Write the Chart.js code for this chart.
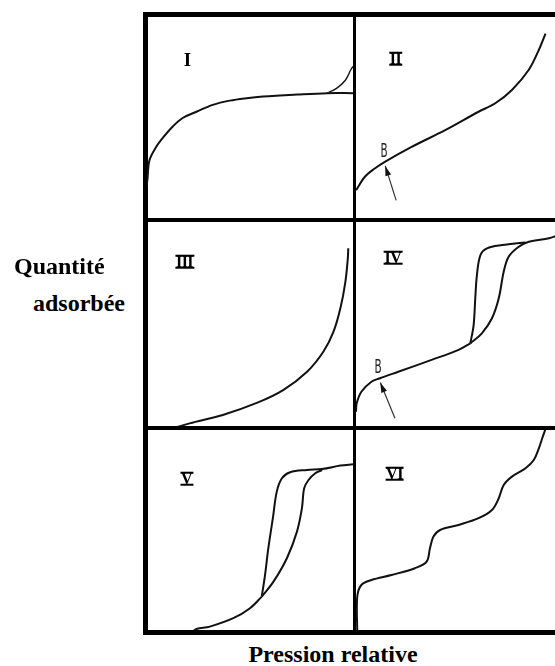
<!DOCTYPE html>
<html>
<head>
<meta charset="utf-8">
<script src="https://cdn.jsdelivr.net/npm/chart.js@4.4.0/dist/chart.umd.min.js"></script>
<style>
	body { margin: 0; background: #fff; width: 555px; height: 666px; overflow: hidden; position: relative; }
	.rule { position: absolute; background: #000; }
	.panel { position: absolute; }
	.num { position: absolute; transform: translate(-50%, -50%); font-family: "Liberation Serif", serif; font-weight: bold; font-size: 16px; line-height: 0.66em; color: #000; white-space: nowrap; }
	.num.bar { border-top: 2px solid #000; border-bottom: 2px solid #000; padding: 0 1px; letter-spacing: -0.5px; }
	.mark { position: absolute; transform: translate(-50%, -50%) scaleX(0.55); font-family: "DejaVu Sans", sans-serif; font-size: 19px; line-height: 1; color: #222; }
	.axis { position: absolute; font-family: "Liberation Serif", "Times New Roman", serif; font-weight: bold; font-size: 24px; line-height: 24px; color: #000; white-space: nowrap; }
</style>
</head>
<body>
<!-- frame -->
<div class="rule" style="left:143px;top:12px;width:4.5px;height:623px"></div>
<div class="rule" style="left:352.5px;top:12px;width:3.5px;height:623px"></div>
<div class="rule" style="left:143px;top:12px;width:412px;height:4.5px"></div>
<div class="rule" style="left:143px;top:217.5px;width:412px;height:4.5px"></div>
<div class="rule" style="left:143px;top:426px;width:412px;height:4px"></div>
<div class="rule" style="left:143px;top:630px;width:412px;height:5px"></div>

<div class="panel" style="left:147px;top:16px"><canvas id="p1" width="206" height="202"></canvas></div>
<div class="panel" style="left:356px;top:16px"><canvas id="p2" width="199" height="202"></canvas></div>
<div class="panel" style="left:147px;top:222px"><canvas id="p3" width="206" height="204"></canvas></div>
<div class="panel" style="left:356px;top:222px"><canvas id="p4" width="199" height="204"></canvas></div>
<div class="panel" style="left:147px;top:430px"><canvas id="p5" width="206" height="200"></canvas></div>
<div class="panel" style="left:356px;top:430px"><canvas id="p6" width="199" height="200"></canvas></div>

<div class="num" style="left:187.5px;top:60px;font-size:19px">I</div>
<div class="num bar" style="left:395.5px;top:58.5px">II</div>
<div class="num bar" style="left:184.5px;top:261.5px">III</div>
<div class="num bar" style="left:393px;top:257.5px">IV</div>
<div class="num bar" style="left:186.5px;top:478.5px">V</div>
<div class="num bar" style="left:394.5px;top:473.5px">VI</div>

<div class="mark" style="left:384px;top:150px">B</div>
<div class="mark" style="left:377.5px;top:365.5px">B</div>

<div class="axis" style="left:14px;top:254px">Quantité</div>
<div class="axis" style="left:33px;top:291px">adsorbée</div>
<div class="axis" style="left:333px;top:642px;transform:translateX(-50%)">Pression relative</div>

<script>
// x = relative pressure across a panel (0..1), y = adsorbed amount (0..1)
const typeI = [[-0.005,0.14],[0.002,0.19],[0.012,0.286],[0.045,0.353],[0.076,0.396],[0.124,0.452],[0.173,0.495],[0.24,0.526],[0.319,0.56],[0.402,0.581],[0.484,0.593],[0.563,0.601],[0.728,0.611],[0.874,0.618],[1.0,0.618]];
const typeIBranch = [[0.874,0.618],[0.92,0.642],[0.963,0.682],[0.99,0.735],[1.0,0.75]];

const typeII = [[0,0.137],[0.042,0.203],[0.091,0.245],[0.14,0.278],[0.27,0.352],[0.433,0.435],[0.595,0.526],[0.676,0.568],[0.757,0.634],[0.839,0.734],[0.888,0.833],[0.92,0.913]];
const typeIIArrow = [[0.195,0.087],[0.142,0.258]];

const typeIII = [[0.13,-0.01],[0.207,0.013],[0.368,0.054],[0.533,0.113],[0.661,0.176],[0.777,0.266],[0.856,0.364],[0.905,0.461],[0.939,0.578],[0.963,0.707],[0.975,0.824],[0.977,0.871]];

const typeIVBase = [[0,0.07],[0.003,0.11],[0.026,0.168],[0.075,0.217],[0.116,0.234],[0.205,0.266],[0.367,0.324],[0.498,0.373],[0.555,0.405]];
const typeIVAds = [[0.555,0.405],[0.611,0.454],[0.66,0.528],[0.693,0.626],[0.717,0.756],[0.741,0.83],[0.79,0.879],[0.839,0.903],[0.937,0.92],[0.975,0.933]];
const typeIVDes = [[0.555,0.405],[0.571,0.495],[0.579,0.626],[0.587,0.74],[0.604,0.838],[0.636,0.871],[0.709,0.887],[0.823,0.9]];
const typeIVArrow = [[0.189,0.038],[0.118,0.213]];

const typeVBase = [[0.22,-0.01],[0.24,0.005],[0.305,0.017],[0.419,0.059],[0.5,0.109],[0.557,0.167]];
const typeVAds = [[0.557,0.167],[0.614,0.242],[0.679,0.359],[0.728,0.492],[0.752,0.609],[0.763,0.709],[0.784,0.75],[0.817,0.784],[0.85,0.8]];
const typeVDes = [[0.557,0.167],[0.573,0.275],[0.589,0.409],[0.611,0.559],[0.63,0.692],[0.655,0.759],[0.695,0.789],[0.777,0.8],[0.85,0.805],[0.939,0.822],[1.0,0.829]];

const typeVI = [[0.006,-0.01],[0.006,0.165],[0.026,0.225],[0.075,0.25],[0.172,0.275],[0.286,0.309],[0.343,0.342],[0.359,0.409],[0.376,0.467],[0.408,0.5],[0.498,0.525],[0.595,0.559],[0.66,0.6],[0.693,0.659],[0.717,0.725],[0.757,0.767],[0.823,0.809],[0.863,0.85],[0.888,0.909],[0.904,0.959],[0.92,1.005]];

// right column is cut by the picture edge
const X_MAX_RIGHT = 199 / 206;

function curve(points, width) {
	return {
		data: points.map((p) => ({ x: p[0], y: p[1] })),
		borderColor: "#111",
		borderWidth: width || 2,
		pointRadius: 0,
		tension: 0.35,
		clip: false,
	};
}

function arrow(points) {
	return {
		data: points.map((p) => ({ x: p[0], y: p[1] })),
		borderColor: "#333",
		borderWidth: 1.2,
		pointRadius: 0,
		tension: 0,
		clip: false,
		arrow: true,
	};
}

// draws the filled head at the last point of an arrow dataset
const arrowHeads = {
	id: "arrowHeads",
	afterDatasetsDraw(chart) {
		const ctx = chart.ctx;
		chart.data.datasets.forEach((ds, i) => {
			if (!ds.arrow) return;
			const pts = chart.getDatasetMeta(i).data;
			const a = pts[pts.length - 2];
			const b = pts[pts.length - 1];
			const ang = Math.atan2(b.y - a.y, b.x - a.x);
			ctx.save();
			ctx.translate(b.x, b.y);
			ctx.rotate(ang);
			ctx.beginPath();
			ctx.moveTo(0, 0);
			ctx.lineTo(-10, -3);
			ctx.lineTo(-10, 3);
			ctx.closePath();
			ctx.fillStyle = "#111";
			ctx.fill();
			ctx.restore();
		});
	},
};

function panel(id, xMax, datasets) {
	new Chart(document.getElementById(id), {
		type: "scatter",
		data: { datasets: datasets },
		options: {
			responsive: false,
			animation: false,
			showLine: true,
			layout: { padding: 0 },
			scales: {
				x: { type: "linear", min: 0, max: xMax, display: false },
				y: { type: "linear", min: 0, max: 1, display: false },
			},
			plugins: { legend: { display: false }, tooltip: { enabled: false } },
		},
		plugins: [arrowHeads],
	});
}

panel("p1", 1, [curve(typeI), curve(typeIBranch, 1.4)]);
panel("p2", X_MAX_RIGHT, [curve(typeII), arrow(typeIIArrow)]);
panel("p3", 1, [curve(typeIII)]);
panel("p4", X_MAX_RIGHT, [curve(typeIVBase), curve(typeIVAds), curve(typeIVDes), arrow(typeIVArrow)]);
panel("p5", 1, [curve(typeVBase), curve(typeVAds), curve(typeVDes)]);
panel("p6", X_MAX_RIGHT, [curve(typeVI)]);
</script>
</body>
</html>
